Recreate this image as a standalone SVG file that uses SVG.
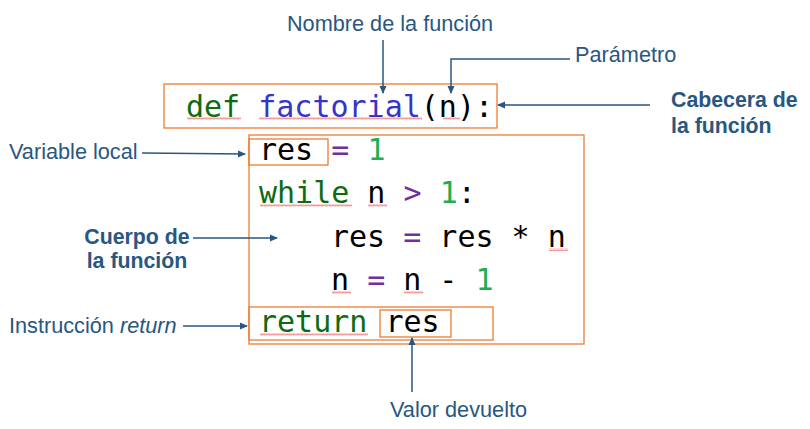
<svg xmlns="http://www.w3.org/2000/svg" width="810" height="429" viewBox="0 0 810 429">
<defs>
<marker id="ah" markerWidth="8" markerHeight="8" refX="7" refY="4" orient="auto" markerUnits="userSpaceOnUse">
<path d="M0,0.5 L8,4 L0,7.5 Z" fill="#285780"/>
</marker>
<pattern id="wave" x="0" y="0" width="4" height="3" patternUnits="userSpaceOnUse">
<path d="M0,2.5 L1,0.5 L2,2.5 L3,0.5 L4,2.5" fill="none" stroke="#F07070" stroke-width="0.7"/>
</pattern>
<style>
.lbl{font-family:"Liberation Sans",Arial,sans-serif;font-size:21.7px;fill:#285780}
.bold{font-weight:bold;font-size:21.3px}
.code{font-family:"DejaVu Sans Mono","Liberation Mono",monospace;font-size:30px;fill:#000}
.kw{fill:#0E6B12}
.fn{fill:#3535C8}
.op{fill:#7030A0}
.num{fill:#1FAE50}
.box{fill:none;stroke:#ED7D31;stroke-width:1.3}
.arr{fill:none;stroke:#285780;stroke-width:1.5;marker-end:url(#ah)}
.wv{fill:url(#wave)}
</style>
</defs>
<rect width="810" height="429" fill="#fff"/>

<g id="header">
<rect class="box" x="164" y="84" width="333" height="44"/>
<text class="code" x="186" y="117"><tspan class="kw">def</tspan> <tspan class="fn">factorial</tspan>(n):</text>
<rect class="wv" x="187" y="117" width="54" height="3"/>
<rect class="wv" x="259" y="117" width="163" height="3"/>
<rect class="wv" x="443" y="117" width="17" height="3"/>
</g>

<g id="body">
<rect class="box" x="249" y="135" width="335" height="209"/>
<g id="local-var">
<rect class="box" x="249" y="139" width="79" height="26"/>
</g>
<text class="code" x="259" y="160">res <tspan class="op">=</tspan> <tspan class="num">1</tspan></text>
<text class="code" x="259" y="203"><tspan class="kw">while</tspan> n <tspan class="op">&gt;</tspan> <tspan class="num">1</tspan>:</text>
<text class="code" x="331" y="247">res <tspan class="op">=</tspan> res * n</text>
<text class="code" x="331" y="290">n <tspan class="op">=</tspan> n - <tspan class="num">1</tspan></text>
<rect class="wv" x="260" y="204" width="92" height="3"/>
<rect class="wv" x="368" y="204" width="19" height="3"/>
<rect class="wv" x="549" y="248" width="19" height="3"/>
<rect class="wv" x="332" y="291" width="19" height="3"/>
<rect class="wv" x="404" y="291" width="19" height="3"/>
<g id="return-stmt">
<rect class="box" x="249" y="307" width="244" height="33"/>
<text class="code" x="259" y="332"><tspan class="kw">return</tspan> res</text>
<rect class="wv" x="260" y="333" width="108" height="3"/>
<rect class="box" x="380" y="310" width="71" height="27"/>
</g>
</g>

<g id="lbl-nombre"><text class="lbl" x="390" y="31" text-anchor="middle">Nombre de la función</text></g>
<g id="lbl-parametro"><text class="lbl" x="575" y="62">Parámetro</text></g>
<g id="lbl-cabecera"><text class="lbl bold" x="671" y="107">Cabecera de</text><text class="lbl bold" x="671" y="133">la función</text></g>
<g id="lbl-variable"><text class="lbl" x="9" y="159">Variable local</text></g>
<g id="lbl-cuerpo"><text class="lbl bold" x="137" y="244" text-anchor="middle">Cuerpo de</text><text class="lbl bold" x="137" y="268" text-anchor="middle">la función</text></g>
<g id="lbl-return"><text class="lbl" x="9" y="333">Instrucción <tspan font-style="italic">return</tspan></text></g>
<g id="lbl-valor"><text class="lbl" x="390" y="417">Valor devuelto</text></g>

<g id="connectors">
<path class="arr" d="M383,40 L383,93"/>
<path class="arr" d="M570,59 L451,59 L451,93"/>
<path class="arr" d="M650,105 L498,105"/>
<path class="arr" d="M142,153 L245,154"/>
<path class="arr" d="M193,238 L277,238"/>
<path class="arr" d="M183,326 L247,326"/>
<path class="arr" d="M412,392 L412,338"/>
</g>
</svg>
